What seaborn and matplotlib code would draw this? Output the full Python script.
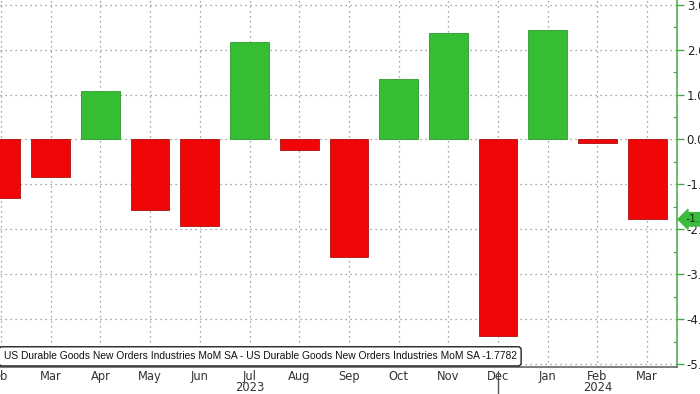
import numpy as np
import pandas as pd
import matplotlib
matplotlib.use("Agg")
import matplotlib.pyplot as plt
import matplotlib.transforms as mtransforms
import seaborn as sns

# Data (MoM %, SA)
months = ["Feb", "Mar", "Apr", "May", "Jun", "Jul", "Aug", "Sep",
          "Oct", "Nov", "Dec", "Jan", "Feb ", "Mar "]
values = [-1.30, -0.84, 1.07, -1.58, -1.93, 2.16, -0.24, -2.62,
          1.35, 2.37, -4.38, 2.44, -0.07, -1.7782]
tick_labels = ["eb", "Mar", "Apr", "May", "Jun", "Jul\n2023", "Aug", "Sep",
               "Oct", "Nov", "Dec", "Jan", "Feb\n2024", "Mar"]
last_value = -1.7782
series_name = "US Durable Goods New Orders Industries MoM SA - US Durable Goods New Orders Industries MoM SA"

df = pd.DataFrame({"month": months, "value": values})
df["sign"] = np.where(df["value"] >= 0, "up", "down")

sns.set_style("white")
plt.rcParams["font.family"] = ["DejaVu Sans"]

fig = plt.figure(figsize=(7, 3.94), dpi=100)
ax = fig.add_axes([0.0, 1 - 367 / 394, 677 / 700, 367 / 394])

green = "#35be33"
red = "#f00606"
sns.barplot(data=df, x="month", y="value", hue="sign", order=months,
            palette={"up": green, "down": red}, dodge=False, width=0.78,
            saturation=1, legend=False, ax=ax, zorder=3)
for p in ax.patches:
    p.set_edgecolor("#a81010" if p.get_height() < 0 else "#2a9a2a")
    p.set_linewidth(0.6)

ax.set_xlim(-0.02, 13.6)
ax.set_ylim(-5.067, 3.105)

# grid
ax.set_yticks(np.arange(-5, 4, 1))
ax.set_yticks(np.arange(-5, 3.5, 0.5), minor=True)
ax.grid(True, which="major", axis="both", color="#8a8a8a", linestyle=(0, (1, 3)),
        linewidth=0.9, zorder=0)

# axes lines
for s in ["top", "left"]:
    ax.spines[s].set_visible(False)
ax.spines["bottom"].set_color("#666666")
ax.spines["bottom"].set_linewidth(1.2)
ax.spines["right"].set_color("#55aa55")
ax.spines["right"].set_linewidth(1.2)

ax.yaxis.tick_right()
ax.set_yticklabels([f"{v:.2f}" for v in np.arange(-5, 4, 1)])
ax.tick_params(axis="y", which="major", colors="#44aa44", labelcolor="#222222",
               length=5, width=1, direction="out", labelsize=8.5, pad=2)
ax.tick_params(axis="y", which="minor", colors="#44aa44", length=3, width=0.8,
               direction="in", right=True, left=False)
ax.set_xticks(range(len(months)))
ax.set_xticklabels(tick_labels, linespacing=0.85)
ax.tick_params(axis="x", length=2, color="#666666", labelcolor="#333333",
               labelsize=8.3, pad=0)
ax.set_xlabel("")
ax.set_ylabel("")

# year separator below the axis
trans = mtransforms.blended_transform_factory(ax.transData, ax.transAxes)
ax.plot([10, 10], [-0.01, -0.1], transform=trans, color="#555555",
        linewidth=1, clip_on=False)

# legend box
ax.text(0.763, 0.029, f"{series_name} {last_value:.4f}", transform=ax.transAxes,
        ha="right", va="center", fontsize=7.35, family=["Liberation Sans", "DejaVu Sans"],
        color="#111111", zorder=6,
        bbox=dict(boxstyle="round,pad=0.45,rounding_size=0.3", fc="white",
                  ec="#222222", lw=1))

# last value tag on the right axis
ytrans = mtransforms.blended_transform_factory(ax.transAxes, ax.transData)
ax.text(1.012, last_value, f"{last_value:.4f}", transform=ytrans, ha="left",
        va="center", fontsize=8, color="#0a3a0a", clip_on=False, zorder=7,
        bbox=dict(boxstyle="larrow,pad=0.15", fc="#3cbb3c", ec="#3cbb3c"))

fig.savefig("out.png", dpi=100)
